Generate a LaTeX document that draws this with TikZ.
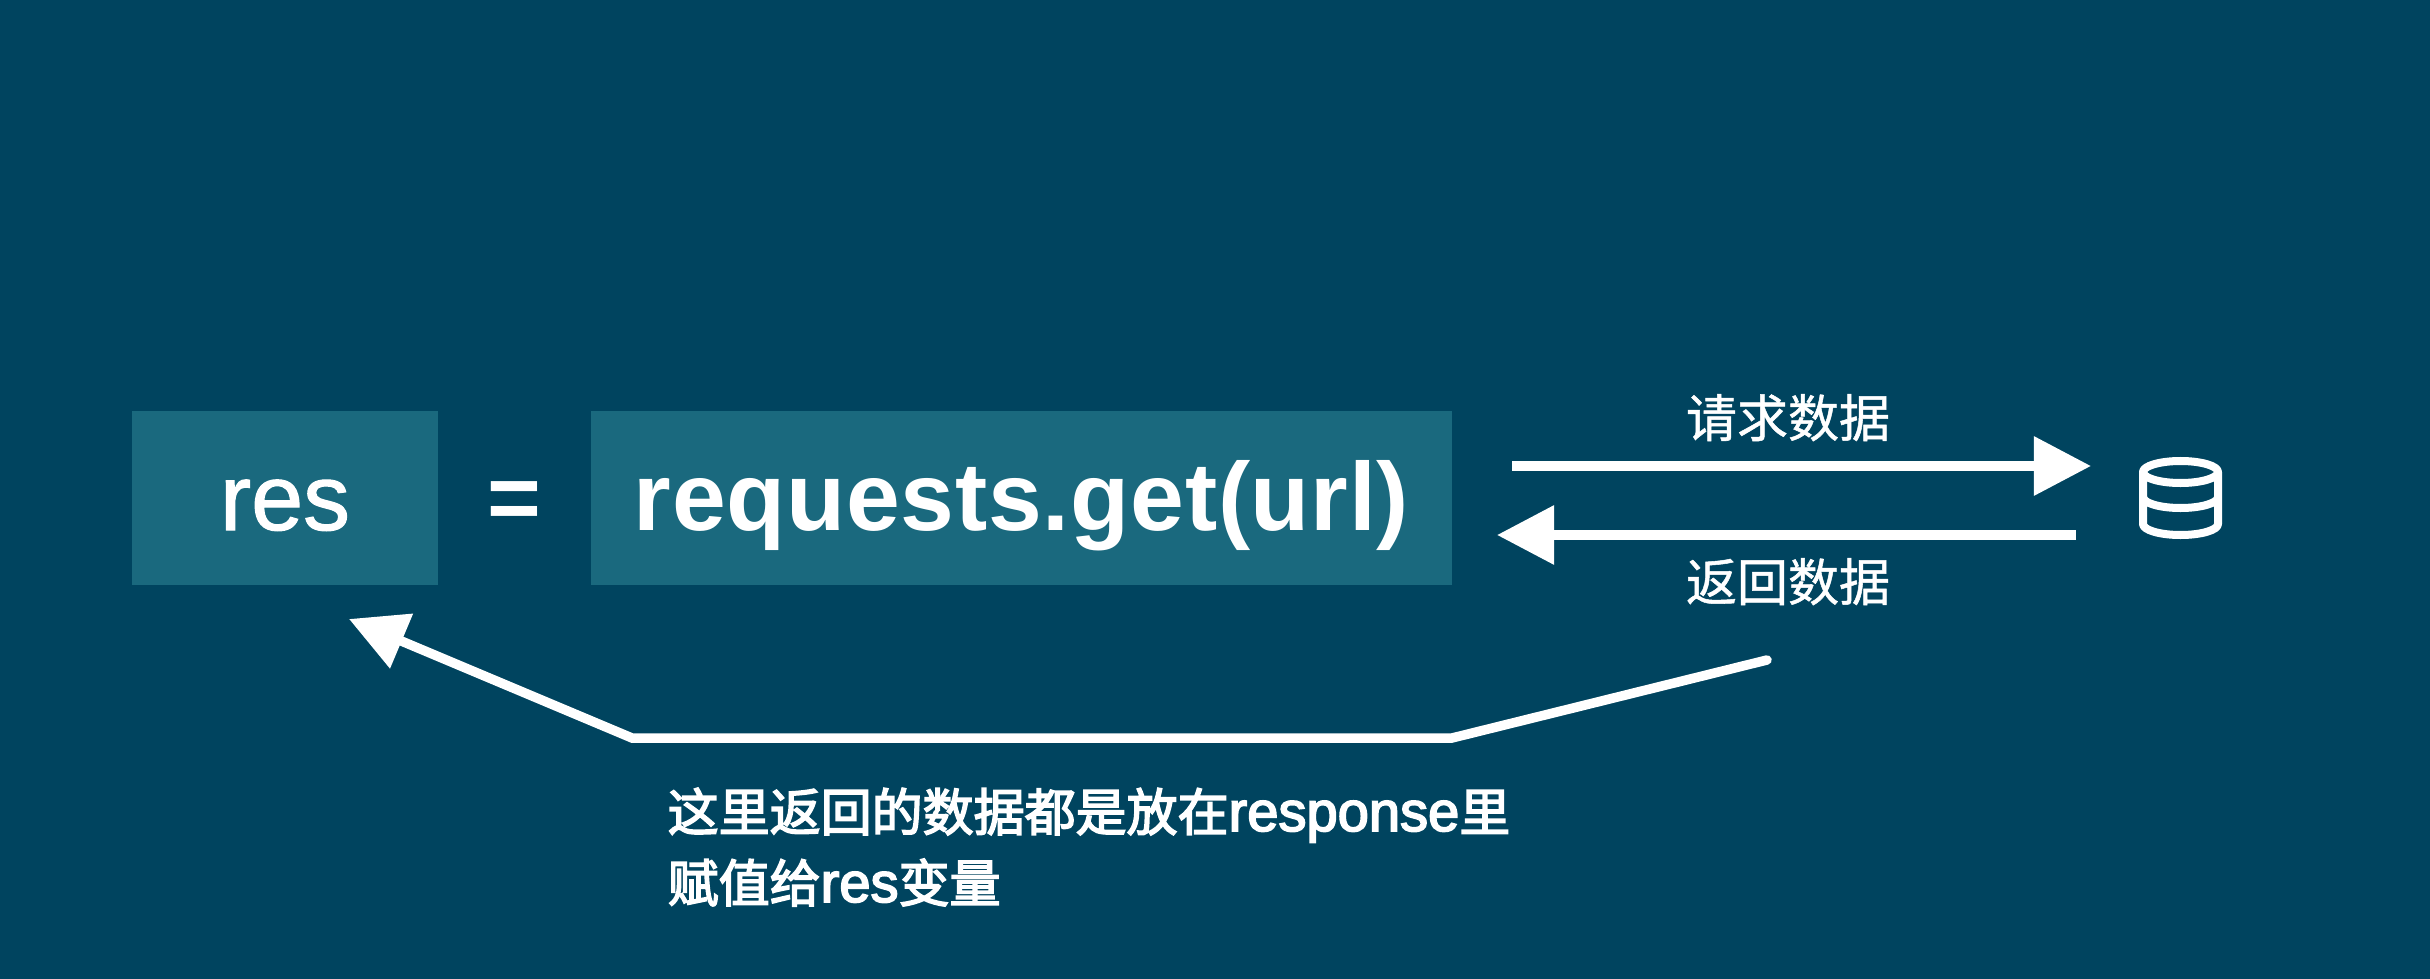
\documentclass[tikz,border=0pt]{standalone}
\usepackage{fontspec}
\usetikzlibrary{arrows.meta}
\setmainfont{Liberation Sans}
\newfontfamily\cjk[FakeBold=1.0]{Noto Sans CJK SC}
\newfontfamily\cjknote[FakeBold=3]{Noto Sans CJK SC}
\newfontfamily\latinnote[Scale=1.1,FakeBold=3]{Liberation Sans}
\newfontfamily\resfont[FakeBold=1.2]{Liberation Sans}
\newfontfamily\codefont[LetterSpace=0.8]{Liberation Sans Bold}
\newfontfamily\plainbold{Liberation Sans Bold}
\definecolor{bgcol}{HTML}{00445F}
\definecolor{boxcol}{HTML}{1A697E}
\tikzset{
  codebox/.style={fill=boxcol,inner sep=0pt,minimum height=1.74cm,text=white,text height=0.8cm,text depth=0.16cm},
  label text/.style={text=white,inner sep=0pt,font=\fontsize{14.5pt}{17pt}\selectfont},
  flow/.style={draw=white,line width=0.095cm,-{Triangle[length=0.57cm,width=0.57cm]},fill=none},
  dbline/.style={draw=white,line width=0.08cm,line join=round},
}
\begin{document}
\begin{tikzpicture}[x=0.01cm,y=0.01cm]
\useasboundingbox (0,0) rectangle (2430,978);
\fill[bgcol] (-10,-10) rectangle (2440,988);

\node[codebox,minimum width=3.06cm,font=\resfont\fontsize{26.6pt}{30pt}\selectfont] (res) at (285,480) {res};
\node[codebox,minimum width=8.61cm,font=\codefont\fontsize{27.5pt}{30pt}\selectfont] (call) at (1021.5,480) {requests.get(url)};
\node[text=white,inner sep=0pt,anchor=center,font=\plainbold\fontsize{26.2pt}{30pt}\selectfont] (eq) at (514,472) {=};

\coordinate (reqA) at (1512,512);
\coordinate (reqB) at (2091,512);
\coordinate (retA) at (2076,443);
\coordinate (retB) at (1497,443);
\draw[flow] (reqA) -- (reqB);
\draw[flow] (retA) -- (retB);

\node[label text,anchor=base] (reqlabel) at (1788,541) {\cjk 请求数据};
\node[label text,anchor=base] (retlabel) at (1788,377) {\cjk 返回数据};

\coordinate (longA) at (1767,318);
\coordinate (longB) at (1452,240);
\coordinate (longC) at (632,240);
\coordinate (longD) at (349,359);
\draw[flow,line cap=round] (longA) -- (longB) -- (longC) -- (longD);

\node[label text,anchor=base west] (note1) at (667,147) {{\cjknote 这里返回的数据都是放在}{\latinnote response}{\cjknote 里}};
\node[label text,anchor=base west] (note2) at (667,76) {{\cjknote 赋值给}{\latinnote res}{\cjknote 变量}};

% database icon
\draw[dbline] (2180.5,506) ellipse [x radius=37.5,y radius=11];
\draw[dbline] (2143,506) -- (2143,454) arc [start angle=180,end angle=360,x radius=37.5,y radius=11] -- (2218,506);
\draw[dbline] (2143,481) arc [start angle=180,end angle=360,x radius=37.5,y radius=11];
\end{tikzpicture}
\end{document}
